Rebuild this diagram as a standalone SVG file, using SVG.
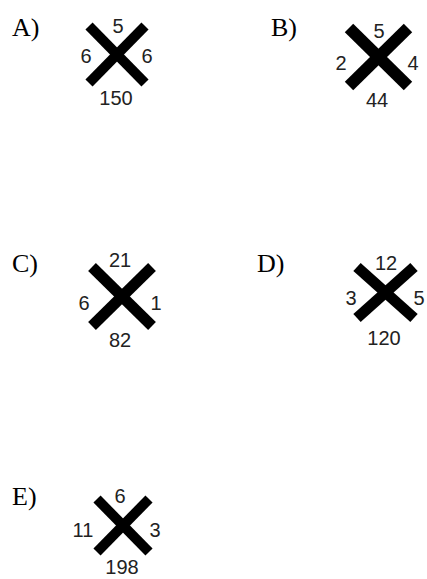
<svg xmlns="http://www.w3.org/2000/svg" width="427" height="579" viewBox="0 0 427 579">
<style>
.lbl{font-family:"Liberation Serif","Times New Roman",serif;font-size:26px;fill:#000}
.num{font-family:"Liberation Sans",Arial,sans-serif;font-size:20px;fill:#222;text-anchor:middle}
.x{stroke:#000;stroke-linecap:butt;fill:none}
</style>
<rect width="427" height="579" fill="#fff"/>
<g id="A">
<text class="lbl" x="12" y="36">A)</text>
<g class="x" stroke-width="10"><line x1="89" y1="26" x2="145" y2="83"/><line x1="145" y1="26" x2="89" y2="83"/></g>
<text class="num" x="118" y="33">5</text>
<text class="num" x="86" y="63">6</text>
<text class="num" x="147" y="63">6</text>
<text class="num" x="116" y="105">150</text>
</g>
<g id="B">
<text class="lbl" x="271" y="36">B)</text>
<g class="x" stroke-width="12"><line x1="349" y1="28" x2="408" y2="86"/><line x1="408" y1="28" x2="349" y2="86"/></g>
<text class="num" x="379" y="38">5</text>
<text class="num" x="341" y="70">2</text>
<text class="num" x="413" y="70">4</text>
<text class="num" x="377" y="107">44</text>
</g>
<g id="C">
<text class="lbl" x="12" y="272">C)</text>
<g class="x" stroke-width="11"><line x1="92" y1="267" x2="152" y2="326"/><line x1="152" y1="267" x2="92" y2="326"/></g>
<text class="num" x="120" y="267">21</text>
<text class="num" x="84" y="310">6</text>
<text class="num" x="156" y="310">1</text>
<text class="num" x="120" y="347">82</text>
</g>
<g id="D">
<text class="lbl" x="257" y="272">D)</text>
<g class="x" stroke-width="11"><line x1="357" y1="267" x2="414" y2="318"/><line x1="414" y1="267" x2="357" y2="318"/></g>
<text class="num" x="386" y="270">12</text>
<text class="num" x="351" y="305">3</text>
<text class="num" x="419" y="305">5</text>
<text class="num" x="384" y="345">120</text>
</g>
<g id="E">
<text class="lbl" x="12" y="505">E)</text>
<g class="x" stroke-width="10"><line x1="97" y1="499" x2="149" y2="552"/><line x1="149" y1="499" x2="97" y2="552"/></g>
<text class="num" x="120" y="503">6</text>
<text class="num" x="83" y="537">11</text>
<text class="num" x="155" y="537">3</text>
<text class="num" x="122" y="574">198</text>
</g>
<g id="connectors"/>
</svg>
